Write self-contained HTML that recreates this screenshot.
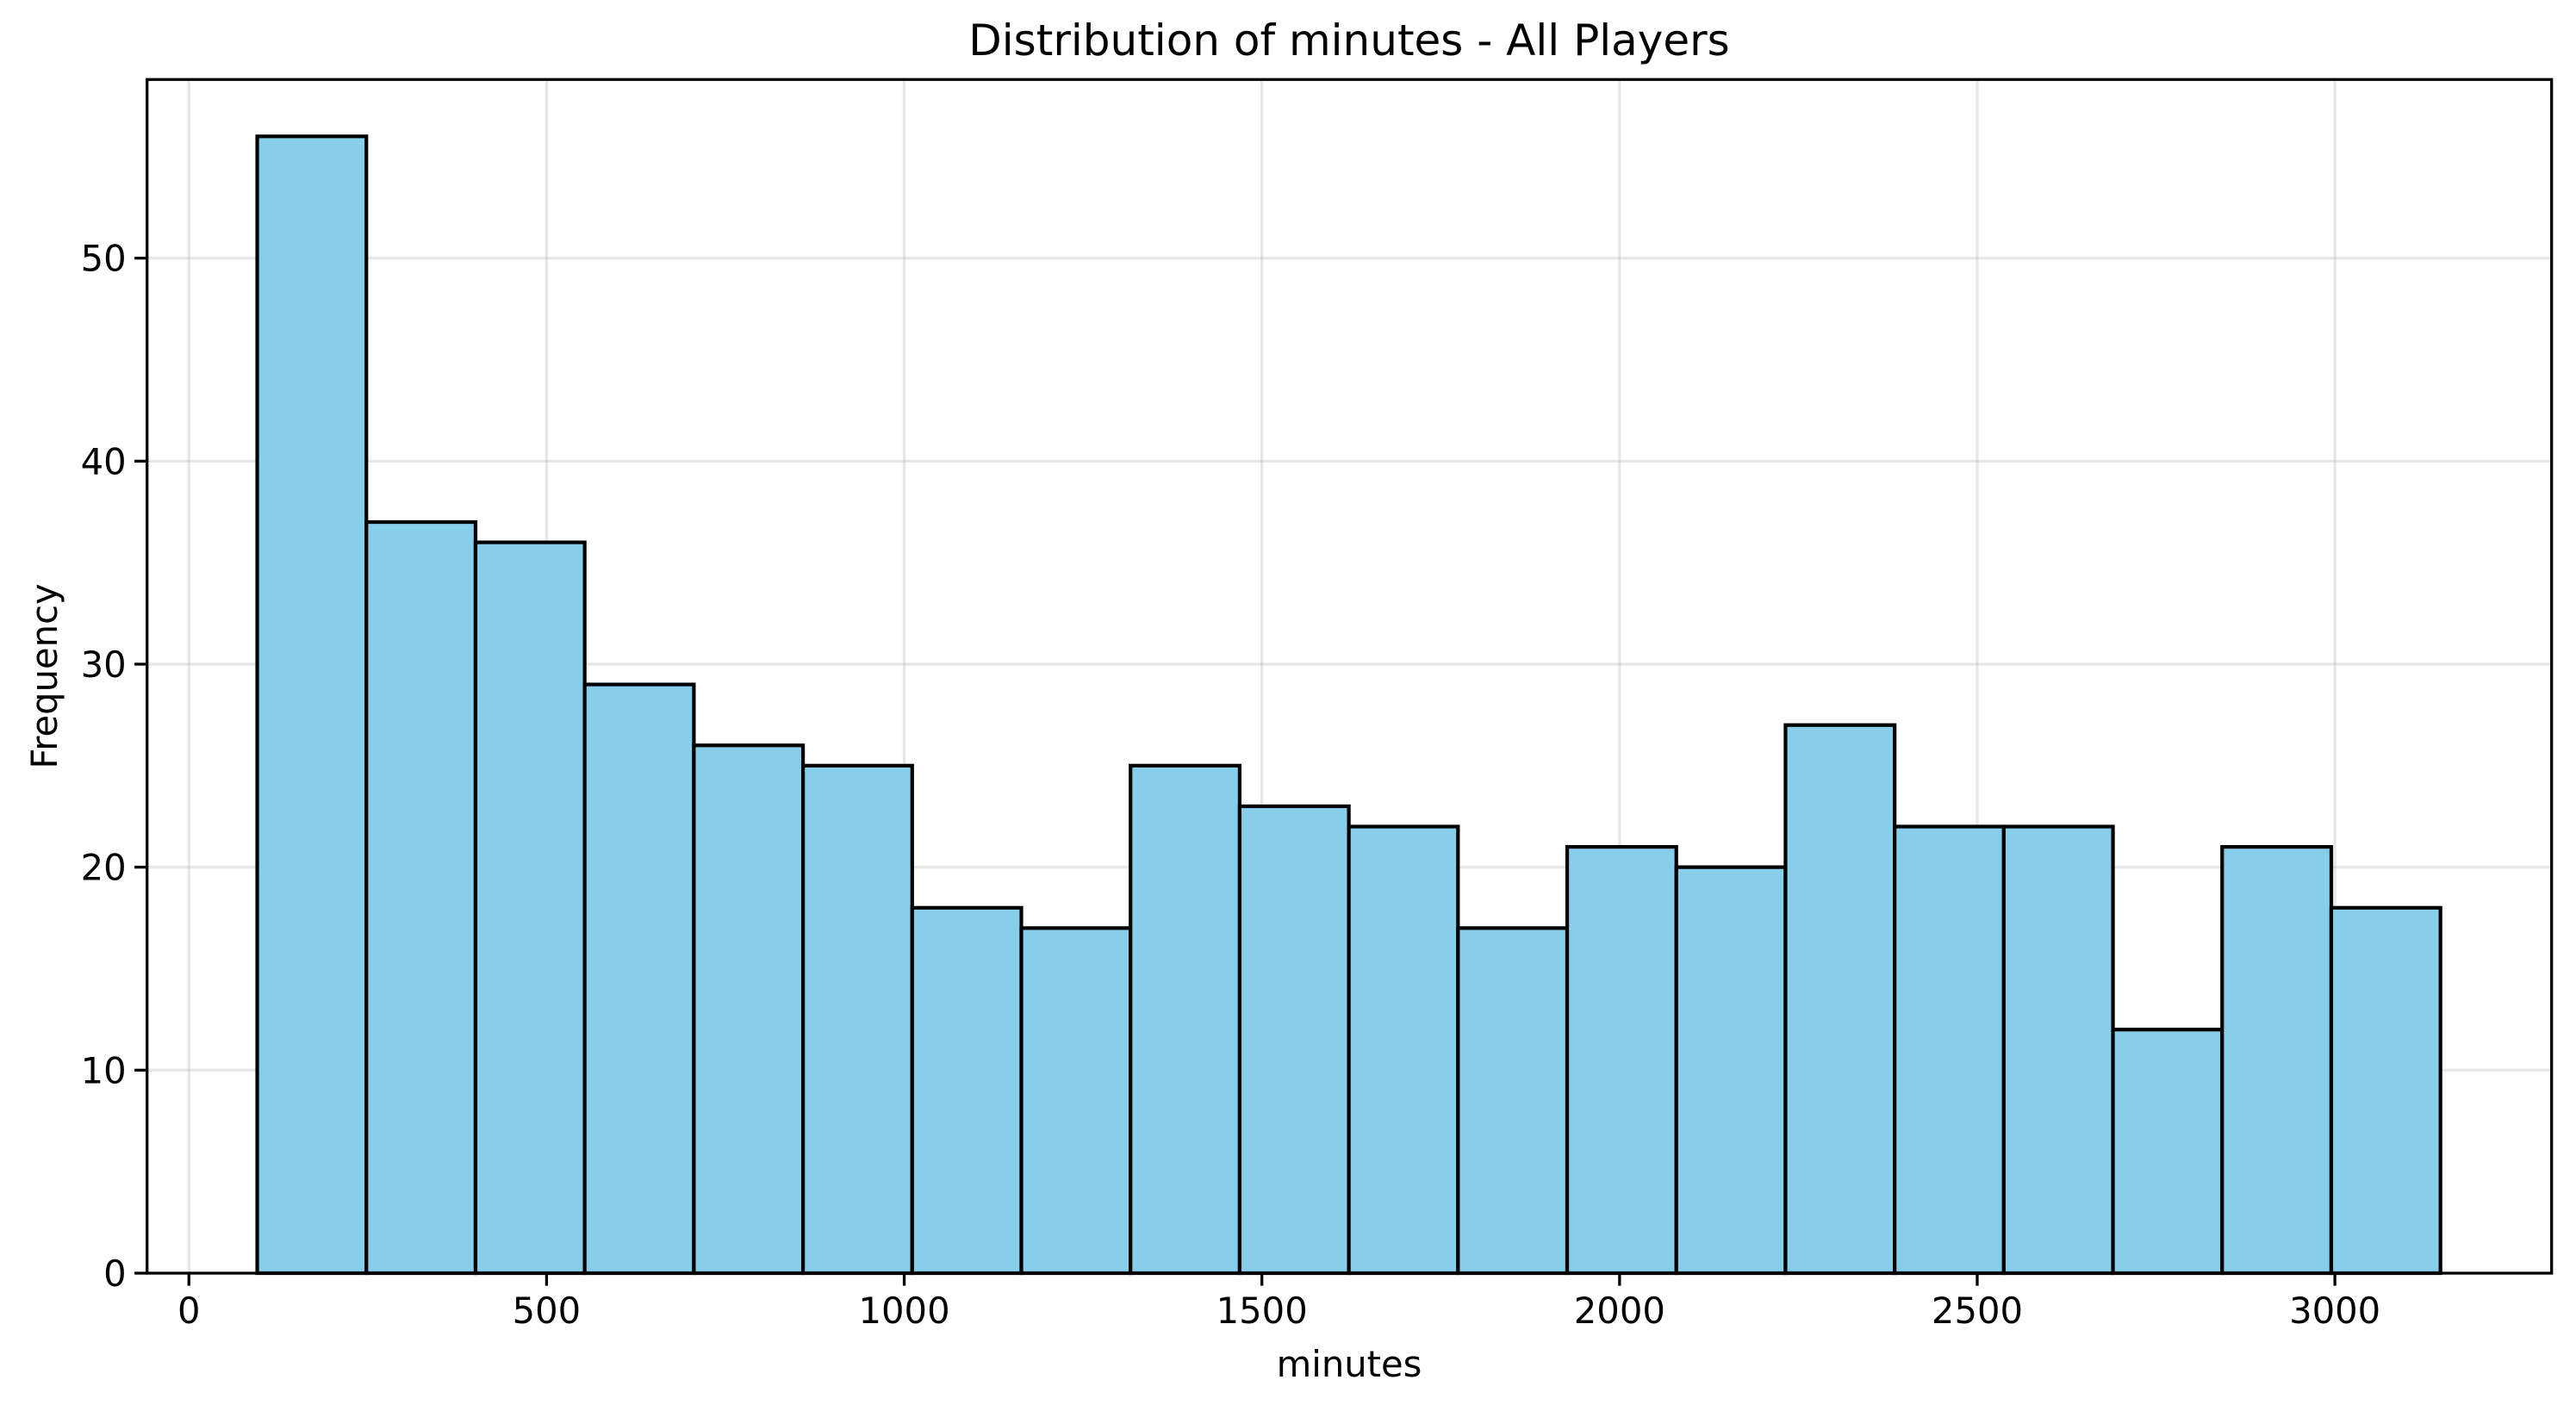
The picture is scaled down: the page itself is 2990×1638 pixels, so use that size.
<!DOCTYPE html>
<html><head><meta charset="utf-8"><style>
html,body{margin:0;padding:0;background:#fff;}
svg{display:block;font-family:"DejaVu Sans","Liberation Sans",sans-serif;}
</style></head><body>
<svg id="chart" width="2990" height="1638" viewBox="0 0 2990 1638" xmlns="http://www.w3.org/2000/svg">
<rect width="2990" height="1638" fill="#fff"/>
<g id="grid"></g>
<g id="bars"></g>
<g id="axes"></g>
<text x="1566" y="64" font-size="50" text-anchor="middle">Distribution of minutes - All Players</text>
<text x="1566" y="1598" font-size="41.7" text-anchor="middle">minutes</text>
<text x="0" y="0" font-size="41.7" text-anchor="middle" transform="translate(66,785) rotate(-90)">Frequency</text>
</svg>
<script>
const binStart = 95.5;
const binEnd = 3147.6;
const counts = [56,37,36,29,26,25,18,17,25,23,22,17,21,20,27,22,22,12,21,18];
const xTicks = [0,500,1000,1500,2000,2500,3000];
const yTicks = [0,10,20,30,40,50];

const L=170.7,R=2961.7,T=92.3,B=1478;
const xMin=-58.5,xMax=3303,yMin=0,yMax=58.8;
const sx=v=>L+(v-xMin)/(xMax-xMin)*(R-L);
const sy=v=>B-(v-yMin)/(yMax-yMin)*(B-T);
const NS="http://www.w3.org/2000/svg";
function mk(tag,attrs,parent){const e=document.createElementNS(NS,tag);for(const k in attrs)e.setAttribute(k,attrs[k]);parent.appendChild(e);return e;}
const grid=document.getElementById('grid'),bars=document.getElementById('bars'),axes=document.getElementById('axes');

xTicks.forEach(t=>{
  const g=mk('line',{x1:sx(t),x2:sx(t),y1:T,y2:B,stroke:'#b0b0b0','stroke-opacity':0.3,'stroke-width':3.3},grid);
  
  
});
yTicks.forEach(t=>{
  const g=mk('line',{x1:L,x2:R,y1:sy(t),y2:sy(t),stroke:'#b0b0b0','stroke-opacity':0.3,'stroke-width':3.3},grid);
  
  
});

const w=(binEnd-binStart)/counts.length;
counts.forEach((c,i)=>{
  const x0=sx(binStart+i*w),x1=sx(binStart+(i+1)*w);
  const r=mk('rect',{x:x0,y:sy(c),width:x1-x0,height:sy(0)-sy(c),fill:'#87ceeb',stroke:'#000','stroke-width':4.2},bars);
  
  
});

const frame=mk('rect',{x:L,y:T,width:R-L,height:B-T,fill:'none',stroke:'#000','stroke-width':3.3},axes);



xTicks.forEach(t=>{
  const tk=mk('line',{x1:sx(t),x2:sx(t),y1:B,y2:B+14.6,stroke:'#000','stroke-width':3.3},axes);
  
  
  const lb=mk('text',{x:sx(t),y:B+58,'font-size':41.7,'text-anchor':'middle'},axes);
  lb.textContent=t;
  
  
});
yTicks.forEach(t=>{
  const tk=mk('line',{x1:L-14.6,x2:L,y1:sy(t),y2:sy(t),stroke:'#000','stroke-width':3.3},axes);
  
  
  const lb=mk('text',{x:L-24,y:sy(t)+15,'font-size':41.7,'text-anchor':'end'},axes);
  lb.textContent=t;
  
  
});
</script>
</body></html>
